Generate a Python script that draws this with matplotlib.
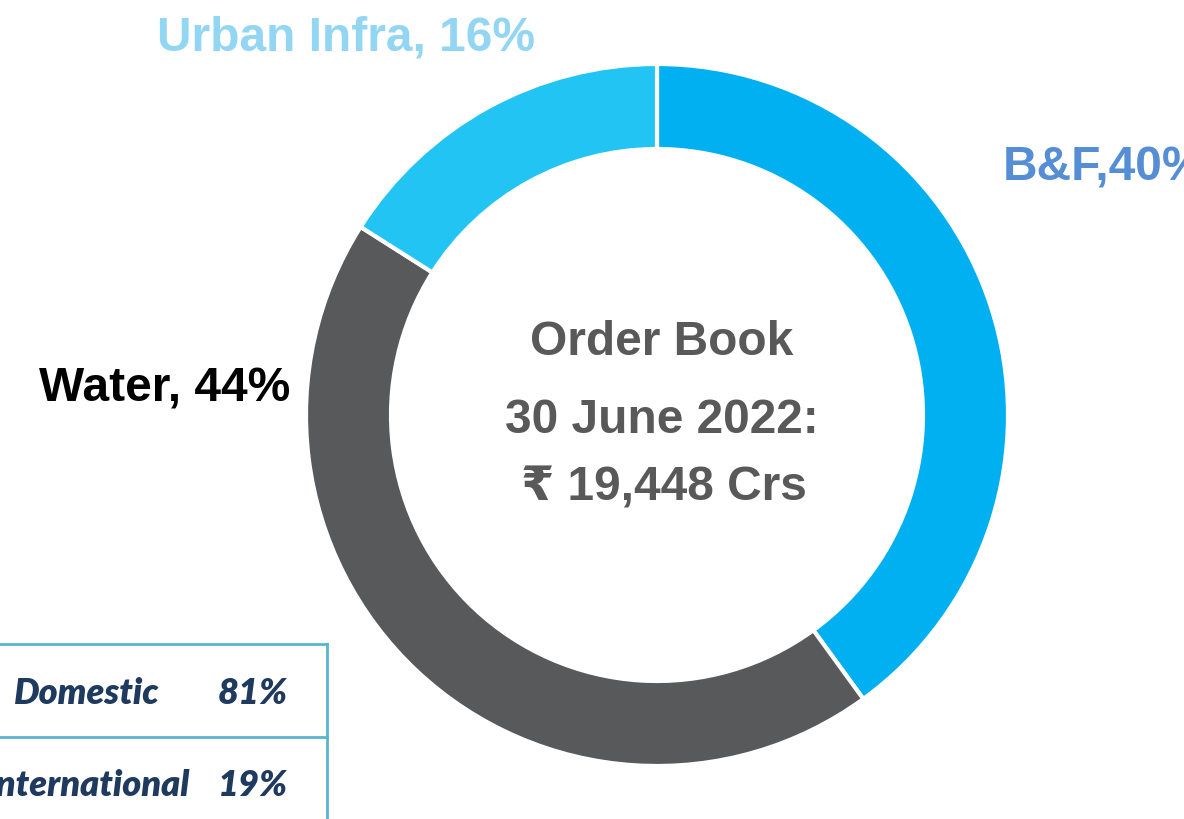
import matplotlib.pyplot as plt

segments = ["B&F", "Water", "Urban Infra"]
shares = [40, 44, 16]
seg_colors = ["#00B0F0", "#58595B", "#22C4F4"]

split_labels = ["Domestic", "International"]
split_values = ["81%", "19%"]

W, H = 1184, 820
fig = plt.figure(figsize=(W / 100, H / 100), dpi=100)
ax = fig.add_axes([0, 0, 1, 1])

# donut
cx, cy, r = 657, H - 416, 351
ax.pie(shares, colors=seg_colors, startangle=90, counterclock=False,
       center=(cx, cy), radius=r, frame=True,
       wedgeprops=dict(width=85, edgecolor="white", linewidth=3))
ax.set_xlim(0, W)
ax.set_ylim(0, H)
ax.set_aspect("equal")
ax.axis("off")

# segment labels
lab = dict(family=["Liberation Sans", "DejaVu Sans"], fontweight="bold", fontsize=34.5)
ax.text(157, H - 38, f"{segments[2]}, {shares[2]}%", color="#93D6F4", va="center", ha="left", **lab)
ax.text(1003, H - 168, f"{segments[0]},{shares[0]}%", color="#558ED5", va="center", ha="left", **lab)
ax.text(290, H - 389, f"{segments[1]}, {shares[1]}%", color="black", va="center", ha="right", **lab)

# center text
ctr = dict(family=["Liberation Sans", "DejaVu Sans"], fontweight="bold", fontsize=34.5,
           color="#595959", ha="center", va="center")
ax.text(662, H - 343, "Order Book", **ctr)
ax.text(662, H - 421, "30 June 2022:", **ctr)
ax.text(664, H - 488, "\u20b9 19,448 Crs", **ctr)

# domestic / international box
lc = "#5AB4CF"
ax.plot([0, 327], [H - 645, H - 645], color=lc, lw=2)
ax.plot([0, 327], [H - 738, H - 738], color=lc, lw=2)
ax.plot([327, 327], [H - 645, 0], color=lc, lw=2)

tb = dict(family=["Lato", "DejaVu Sans"], fontweight="heavy", style="italic",
          fontsize=26, color="#1F3A5F", va="center")
rows_y = [694, 786]
for name, val, y in zip(split_labels, split_values, rows_y):
    right = 160 if name == "Domestic" else 190
    ax.text(right, H - y, name, ha="right", **tb)
    ax.text(288, H - y, val, ha="right", **tb)

plt.savefig("out.png", dpi=100)
